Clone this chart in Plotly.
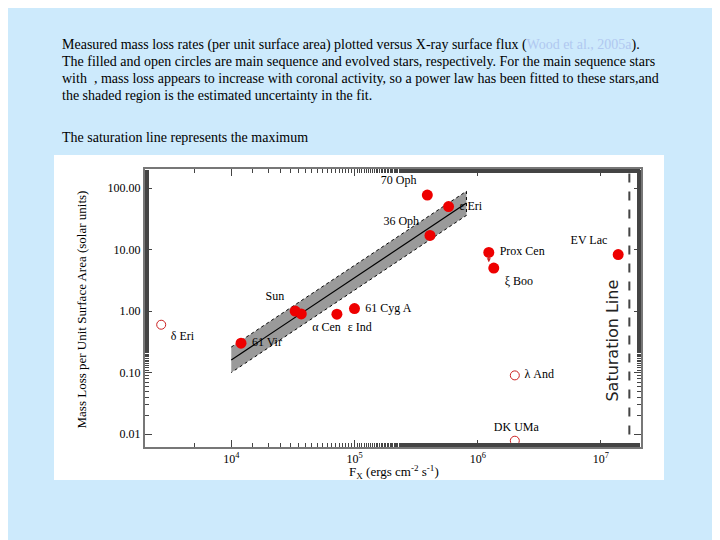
import numpy as np
import plotly.graph_objects as go

# main sequence stars (filled)
ms_names = ["70 Oph", "ε Eri", "36 Oph", "Prox Cen", "ξ Boo", "EV Lac",
            "Sun", "α Cen", "ε Ind", "61 Cyg A", "61 Vir"]
ms_fx = [3.9e5, 5.8e5, 4.1e5, 1.23e6, 1.35e6, 1.38e7,
         3.3e4, 3.7e4, 7.2e4, 1.0e5, 1.2e4]
ms_mdot = [77, 50, 17, 9.0, 5.0, 8.3, 1.0, 0.9, 0.89, 1.1, 0.30]
ms_pos = ["top left", "middle right", "top left", "middle right", "bottom right", "top left",
          "top left", "bottom right", "bottom right", "middle right", "middle right"]

# evolved stars (open)
ev_names = ["δ Eri", "λ And", "DK UMa"]
ev_fx = [2.7e3, 2.0e6, 2.0e6]
ev_mdot = [0.6, 0.09, 0.0078]
ev_pos = ["bottom right", "middle right", "top center"]

# power-law fit and its uncertainty band
fit_x = [1.0e4, 8.1e5]
fit_y = [0.16, 57]
band_lo = [0.10, 36]
band_hi = [0.26, 89]
sat_fx = 1.7e7

W, H = 720, 540
DX, DY = 9, 8  # page offset of the rendered figure


def px(x):
    return (x - DX) / W


def py(y):
    return 1 - (y - DY) / H


serif = "Liberation Serif"
fig = go.Figure()

fig.add_trace(go.Scatter(x=fit_x + fit_x[::-1], y=band_hi + band_lo[::-1], fill="toself",
                         fillcolor="#9a9a9a", line=dict(color="black", width=1, dash="dot"),
                         mode="lines", hoverinfo="skip"))
fig.add_trace(go.Scatter(x=fit_x, y=fit_y, mode="lines", line=dict(color="black", width=1.2)))
fig.add_trace(go.Scatter(x=ms_fx, y=ms_mdot, mode="markers+text", text=[" " + n + " " for n in ms_names],
                         textposition=ms_pos, textfont=dict(family=serif, size=12, color="black"),
                         marker=dict(color="#ee0000", size=11, line=dict(width=0))))
fig.add_trace(go.Scatter(x=ev_fx, y=ev_mdot, mode="markers+text", text=[" " + n for n in ev_names],
                         textposition=ev_pos, textfont=dict(family=serif, size=12, color="black"),
                         marker=dict(color="rgba(0,0,0,0)", size=9, line=dict(color="#cc2222", width=1))))
fig.add_trace(go.Scatter(x=[sat_fx, sat_fx], y=[0.005, 200], mode="lines",
                         line=dict(color="#444", width=2, dash="dash")))

fig.add_annotation(x=np.log10(ms_fx[3]), y=np.log10(6.2), ax=np.log10(ms_fx[3]), ay=np.log10(8.6),
                   xref="x", yref="y", axref="x", ayref="y", showarrow=True, arrowhead=2,
                   arrowsize=0.8, arrowwidth=1, arrowcolor="#cc2222", text="")
fig.add_annotation(x=np.log10(1.25e7), y=np.log10(0.33), xref="x", yref="y", text="Saturation Line",
                   textangle=-90, showarrow=False, font=dict(family="DejaVu Sans", size=16, color="#222"))

fig.add_annotation(x=px(72), y=py(310), xref="paper", yref="paper", yanchor="middle", showarrow=False,
                   text="Mass Loss per Unit Surface Area (solar units)", textangle=-90,
                   font=dict(family=serif, size=13, color="black"))
fig.add_annotation(x=px(395), y=py(472), xref="paper", yref="paper", yanchor="middle", showarrow=False,
                   text="F<sub>X</sub> (ergs cm<sup>-2</sup> s<sup>-1</sup>)",
                   font=dict(family=serif, size=13, color="black"))

# page text above the image
lines = [
    "Measured mass loss rates (per unit surface area) plotted versus X-ray surface flux (<span style='color:#b0c8f0'>Wood et al., 2005a</span>).",
    "The filled and open circles are main sequence and evolved stars, respectively. For the main sequence stars",
    "with  , mass loss appears to increase with coronal activity, so a power law has been fitted to these stars,and",
    "the shaded region is the estimated uncertainty in the fit.",
]
for i, t in enumerate(lines):
    fig.add_annotation(x=px(61), y=py(45 + 16.7 * i), xref="paper", yref="paper",
                       xanchor="left", yanchor="middle", showarrow=False, text=t,
                       font=dict(family=serif, size=14, color="black"))
fig.add_annotation(x=px(61), y=py(137), xref="paper", yref="paper", xanchor="left",
                   yanchor="middle", showarrow=False, text="The saturation line represents the maximum",
                   font=dict(family=serif, size=14, color="black"))

fig.add_shape(type="rect", xref="paper", yref="paper", x0=px(55), x1=px(665),
              y0=py(480), y1=py(155), fillcolor="white", line=dict(width=0), layer="below")

axis = dict(type="log", showgrid=False, zeroline=False, showline=True, linecolor="#777", linewidth=2,
            mirror="ticks", ticks="inside", ticklen=7, tickcolor="#444",
            minor=dict(ticks="inside", ticklen=4, tickcolor="#444"),
            tickfont=dict(family=serif, size=12, color="black"))
fig.update_xaxes(**axis, domain=[px(146), px(642)], range=[3.30, 7.325],
                 tickvals=[1e4, 1e5, 1e6, 1e7], ticktext=["10<sup>4</sup>", "10<sup>5</sup>", "10<sup>6</sup>", "10<sup>7</sup>"])
fig.update_yaxes(**axis, domain=[py(447), py(169)], range=[-2.21, 2.31],
                 tickvals=[0.01, 0.1, 1, 10, 100], ticktext=["0.01", "0.10", "1.00", "10.00", "100.00"])

fig.update_layout(width=W, height=H, margin=dict(l=0, r=0, t=0, b=0), showlegend=False,
                  paper_bgcolor="#cdeafc", plot_bgcolor="white")

fig.write_html("out.html")
